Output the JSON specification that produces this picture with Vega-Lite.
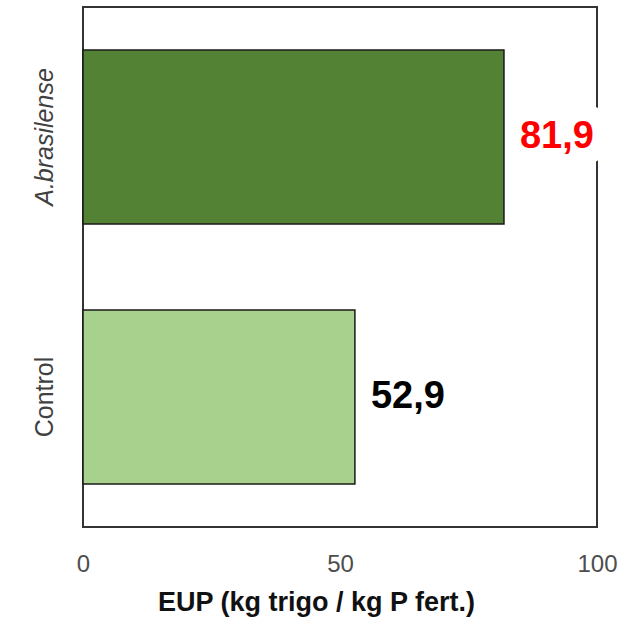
{
  "$schema": "https://vega.github.io/schema/vega-lite/v6.json",
  "width": 514,
  "height": 520,
  "autosize": {"type": "none"},
  "padding": {"left": 83, "top": 7, "right": 37, "bottom": 100},
  "config": {
    "view": {"stroke": "#333333", "strokeWidth": 2},
    "locale": {"number": {"decimal": ",", "thousands": ".", "grouping": [3], "currency": ["", ""]}},
    "font": "Liberation Sans"
  },
  "data": {"values": [
    {"group": "A.brasilense", "eup": 81.9},
    {"group": "Control", "eup": 52.9}
  ]},
  "encoding": {
    "y": {
      "field": "group", "type": "nominal", "sort": ["A.brasilense", "Control"],
      "scale": {"paddingInner": 0.33, "paddingOuter": 0.165},
      "axis": {
        "title": null, "domain": false, "ticks": false, "labelAngle": -90,
        "labelFontSize": 25, "labelColor": "#404040", "labelPadding": 26,
        "labelFont": "Liberation Sans",
        "labelFontStyle": {"expr": "datum.value == 'A.brasilense' ? 'italic' : 'normal'"}
      }
    },
    "x": {
      "field": "eup", "type": "quantitative",
      "scale": {"domain": [0, 100], "nice": false},
      "axis": {
        "title": "EUP (kg trigo / kg P fert.)", "values": [0, 50, 100], "grid": false,
        "domain": false, "ticks": false, "labelFontSize": 24, "labelColor": "#4d4d4d",
        "labelPadding": 25, "labelFlush": false,
        "titleFontSize": 27, "titleFontWeight": "bold", "titleColor": "#111111",
        "titlePadding": 13, "titleX": 233, "titleAlign": "center"
      }
    }
  },
  "layer": [
    {
      "transform": [{"filter": "datum.group == 'A.brasilense'"}],
      "mark": {"type": "text", "align": "left", "baseline": "middle", "dx": 16, "fontSize": 38, "fontWeight": "bold", "stroke": "white", "strokeWidth": 34, "fill": "white", "font": "Liberation Sans"},
      "encoding": {"text": {"field": "eup", "type": "quantitative", "format": ".1f"}}
    },
    {
      "mark": {"type": "bar", "stroke": "#1a1a1a", "strokeWidth": 1.5},
      "encoding": {
        "color": {
          "field": "group", "type": "nominal", "legend": null,
          "scale": {"domain": ["A.brasilense", "Control"], "range": ["#548235", "#a9d18e"]}
        }
      }
    },
    {
      "mark": {"type": "text", "align": "left", "baseline": "middle", "dx": 16, "fontSize": 38, "fontWeight": "bold", "font": "Liberation Sans"},
      "encoding": {
        "text": {"field": "eup", "type": "quantitative", "format": ".1f"},
        "color": {
          "field": "group", "type": "nominal", "legend": null,
          "scale": {"domain": ["A.brasilense", "Control"], "range": ["#ff0000", "#000000"]}
        }
      }
    }
  ],
  "resolve": {"scale": {"color": "independent"}}
}
